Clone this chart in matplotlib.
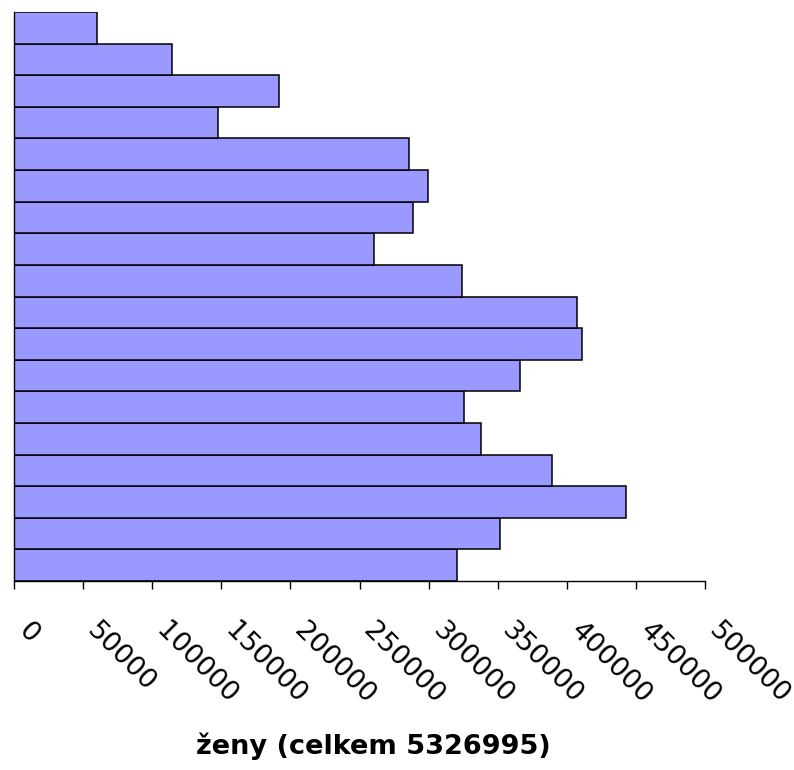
import matplotlib
matplotlib.use("Agg")
import matplotlib.pyplot as plt
from matplotlib.transforms import ScaledTranslation, blended_transform_factory

# Female population by five-year age group (youngest at the bottom)
age_groups = ["0-4", "5-9", "10-14", "15-19", "20-24", "25-29", "30-34",
              "35-39", "40-44", "45-49", "50-54", "55-59", "60-64",
              "65-69", "70-74", "75-79", "80-84", "85+"]
women = [320550, 351660, 442840, 389510, 337920, 325400, 366350, 411220,
         407600, 324390, 260280, 288930, 299350, 285600, 147400, 191750,
         114110, 60280]
x_ticks = [0, 50000, 100000, 150000, 200000, 250000, 300000, 350000,
           400000, 450000, 500000]
x_label = "ženy (celkem 5326995)"

W, H = 794, 770
fig = plt.figure(figsize=(W / 100, H / 100), dpi=100)
ax = fig.add_axes([14 / W, (H - 581) / H, (705 - 14) / W, (581 - 12) / H])

pos = list(range(len(women)))
ax.barh(pos, women, height=1.0, color="#9999FF", edgecolor="black",
        linewidth=1.1, zorder=2)

ax.set_xlim(0, 500000)
ax.set_ylim(-0.5, len(women) - 0.5)
ax.set_yticks([])
ax.set_xticks(x_ticks)
ax.set_xticklabels([])
ax.tick_params(axis="x", direction="out", length=5.5, width=1.0, color="black")
for side in ("top", "right"):
    ax.spines[side].set_visible(False)
for side in ("left", "bottom"):
    ax.spines[side].set_linewidth(1.0)
    ax.spines[side].set_color("black")

# Rotated tick labels, hanging down-right from each tick
trans = blended_transform_factory(ax.transData, ax.transAxes)
for t in x_ticks:
    off = ScaledTranslation(17 / 100, -37 / 100, fig.dpi_scale_trans)
    ax.text(t, 0, f"{t}", transform=trans + off, rotation=-45,
            rotation_mode="anchor", ha="left", va="top",
            fontsize=19.5, family="DejaVu Sans", color="black")

fig.text(373 / W, (H - 754) / H, x_label, ha="center", va="baseline",
         fontsize=19.5, fontweight="bold", family="DejaVu Sans", color="black")

fig.savefig("out.png", dpi=100, facecolor="white")
